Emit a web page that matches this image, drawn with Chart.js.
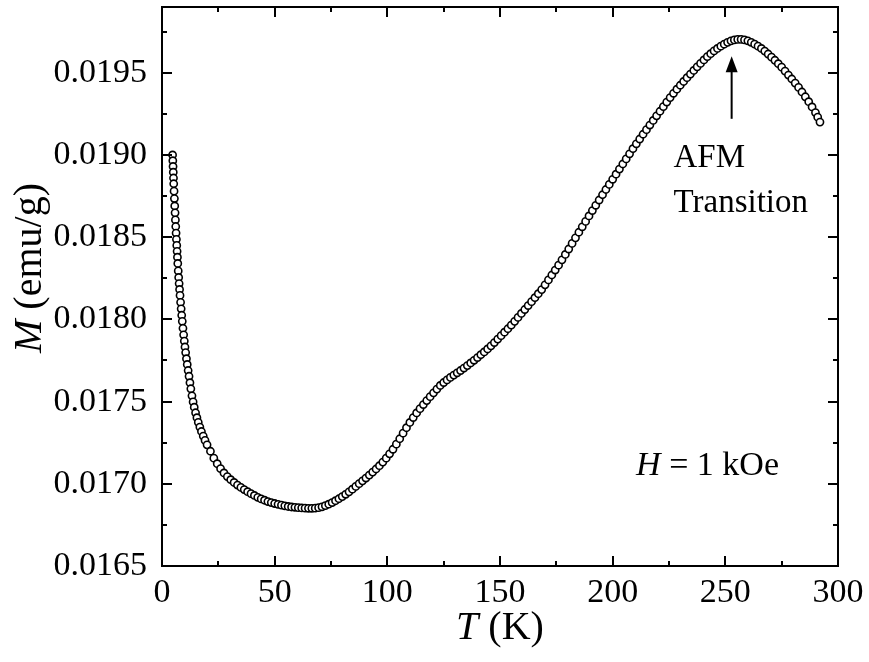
<!DOCTYPE html>
<html>
<head>
<meta charset="utf-8">
<title>M vs T</title>
<script src="https://cdn.jsdelivr.net/npm/chart.js@4.4.1/dist/chart.umd.min.js"></script>
<style>
  body { margin: 0; background: #fff; }
  #wrap { width: 869px; height: 662px; }
</style>
</head>
<body>
<div id="wrap"><canvas id="myChart" width="869" height="662"></canvas></div>
<script>
// temperature (K) and magnetization (emu/g)
const temps = [
  4.7, 4.8, 4.9, 5.0, 5.1, 5.2, 5.35, 5.5, 5.65, 5.8, 5.95, 6.1, 6.25, 6.4, 6.55, 6.7, 6.85, 7.0,
  7.2, 7.4, 7.6, 7.8, 8.0, 8.25, 8.5, 8.75, 9.0, 9.3, 9.6, 9.9, 10.2, 10.5, 10.85, 11.2, 11.6,
  12.0, 12.4, 12.8, 13.3, 13.8, 14.3, 14.9, 15.5, 16.1, 16.8, 17.5, 18.3, 19.1,
  20, 21.5, 23, 24.5, 26, 27.5, 29, 30.5, 32, 33.5, 35, 36.5, 38, 39.5, 41, 42.5, 44, 45.5,
  47, 48.5, 50, 51.5, 53, 54.5, 56, 57.5, 59, 60.5, 62, 63.5, 65, 66.5, 68, 69.5, 71, 72.5,
  74, 75.5, 77, 78.5, 80, 81.5, 83, 84.5, 86, 87.5, 89, 90.5, 92, 93.5, 95, 96.5, 98, 99.5,
  101, 102.5, 104, 105.5, 107, 108.5, 110, 111.5, 113, 114.5, 116, 117.5, 119, 120.5, 122, 123.5,
  125, 126.5, 128, 129.5, 131, 132.5, 134, 135.5, 137, 138.5, 140, 141.5, 143, 144.5, 146, 147.5,
  149, 150.5, 152, 153.5, 155, 156.5, 158, 159.5, 161, 162.5, 164, 165.5, 167, 168.5, 170, 171.5,
  173, 174.5, 176, 177.5, 179, 180.5, 182, 183.5, 185, 186.5, 188, 189.5, 191, 192.5, 194, 195.5,
  197, 198.5, 200, 201.5, 203, 204.5, 206, 207.5, 209, 210.5, 212, 213.5, 215, 216.5, 218, 219.5,
  221, 222.5, 224, 225.5, 227, 228.5, 230, 231.5, 233, 234.5, 236, 237.5, 239, 240.5, 242, 243.5,
  245, 246.5, 248, 249.5, 251, 252.5, 254, 255.5, 257, 258.5, 260, 261.5, 263, 264.5, 266, 267.5,
  269, 270.5, 272, 273.5, 275, 276.5, 278, 279.5, 281, 282.5, 284, 285.5, 287, 288.5, 290, 291, 292
];
const moments = [
  0.019000, 0.018965, 0.018930, 0.018895, 0.018860, 0.018825, 0.018780, 0.018735, 0.018690,
  0.018648, 0.018605, 0.018565, 0.018525, 0.018487, 0.018450, 0.018414, 0.018378, 0.018340,
  0.018295, 0.018255, 0.018218, 0.018182, 0.018146, 0.018104, 0.018064, 0.018025, 0.017988,
  0.017946, 0.017906, 0.017868, 0.017832, 0.017798, 0.017761, 0.017726, 0.017689,
  0.017654, 0.017615, 0.017578, 0.017535, 0.017498, 0.017466, 0.017432, 0.017402, 0.017374,
  0.017345, 0.017318, 0.017290, 0.017264,
  0.017237, 0.017198, 0.017156, 0.017122, 0.017092, 0.017066, 0.017044, 0.017025, 0.017008,
  0.016992, 0.016978, 0.016965, 0.016952, 0.016940, 0.016929, 0.016918, 0.016908, 0.016900,
  0.016892, 0.016886, 0.016880, 0.016875, 0.016870, 0.016866, 0.016862, 0.016859, 0.016857,
  0.016855, 0.016853, 0.016852, 0.016851, 0.016851, 0.016852, 0.016855, 0.016860, 0.016867,
  0.016876, 0.016886, 0.016897, 0.016909, 0.016922, 0.016936, 0.016951, 0.016967, 0.016984,
  0.017001, 0.017018, 0.017035, 0.017053, 0.017071, 0.017090, 0.017110, 0.017132, 0.017156,
  0.017182, 0.017210, 0.017241, 0.017274, 0.017308, 0.017341, 0.017373, 0.017403, 0.017431,
  0.017457, 0.017482, 0.017506, 0.017530, 0.017553, 0.017576, 0.017598,
  0.017616, 0.017632, 0.017647, 0.017661, 0.017675, 0.017689, 0.017704, 0.017719, 0.017735,
  0.017751, 0.017768, 0.017785, 0.017802, 0.017820, 0.017839, 0.017859,
  0.017880, 0.017901, 0.017922, 0.017943, 0.017965, 0.017988, 0.018012, 0.018036, 0.018060,
  0.018084, 0.018108, 0.018132, 0.018156, 0.018181, 0.018210, 0.018240,
  0.018270, 0.018300, 0.018330, 0.018362, 0.018395, 0.018428, 0.018462, 0.018496, 0.018530,
  0.018563, 0.018596, 0.018629, 0.018662, 0.018694, 0.018726, 0.018758,
  0.018790, 0.018821, 0.018852, 0.018883, 0.018914, 0.018945, 0.018976, 0.019007, 0.019038,
  0.019068, 0.019097, 0.019126, 0.019154, 0.019182, 0.019210, 0.019238,
  0.019266, 0.019294, 0.019322, 0.019349, 0.019375, 0.019400, 0.019424, 0.019447, 0.019470,
  0.019492, 0.019514, 0.019536, 0.019557, 0.019578, 0.019598, 0.019616,
  0.019633, 0.019648, 0.019662, 0.019674, 0.019685, 0.019694, 0.019700, 0.019703, 0.019703,
  0.019700, 0.019694, 0.019685, 0.019674, 0.019662, 0.019648, 0.019632,
  0.019614, 0.019595, 0.019576, 0.019555, 0.019534, 0.019510, 0.019486, 0.019462, 0.019437,
  0.019411, 0.019383, 0.019354, 0.019324, 0.019292, 0.019258, 0.019230, 0.019200
];

const xTicks = [0, 50, 100, 150, 200, 250, 300];
const xMinor = [25, 75, 125, 175, 225, 275];
const yTicks = [0.0165, 0.0170, 0.0175, 0.0180, 0.0185, 0.0190, 0.0195];
const yMinor = [0.01675, 0.01725, 0.01775, 0.01825, 0.01875, 0.01925, 0.01975];

const FONT = '"Liberation Serif", "Times New Roman", serif';

// draws a line of text made of italic / upright pieces
function richText(ctx, parts, x, y, size, align) {
  let w = 0;
  parts.forEach(p => {
    ctx.font = (p.it ? 'italic ' : '') + size + 'px ' + FONT;
    p.w = ctx.measureText(p.t).width;
    w += p.w;
  });
  let cx = align === 'center' ? x - w / 2 : x;
  ctx.textAlign = 'left';
  ctx.textBaseline = 'alphabetic';
  parts.forEach(p => {
    ctx.font = (p.it ? 'italic ' : '') + size + 'px ' + FONT;
    ctx.fillText(p.t, cx, y);
    cx += p.w;
  });
}

const framePlugin = {
  id: 'frame',
  afterDraw(chart) {
    const ctx = chart.ctx;
    const a = chart.chartArea;
    const xs = chart.scales.x, ys = chart.scales.y;
    ctx.save();
    ctx.strokeStyle = '#000';
    ctx.fillStyle = '#000';
    ctx.lineWidth = 2;
    ctx.strokeRect(a.left, a.top, a.right - a.left, a.bottom - a.top);

    ctx.beginPath();
    const tickX = (vals, len) => vals.forEach(v => {
      const px = Math.round(xs.getPixelForValue(v));
      ctx.moveTo(px, a.bottom); ctx.lineTo(px, a.bottom - len);
      ctx.moveTo(px, a.top); ctx.lineTo(px, a.top + len);
    });
    const tickY = (vals, len) => vals.forEach(v => {
      const py = Math.round(ys.getPixelForValue(v));
      ctx.moveTo(a.left, py); ctx.lineTo(a.left + len, py);
      ctx.moveTo(a.right, py); ctx.lineTo(a.right - len, py);
    });
    tickX(xTicks, 10); tickX(xMinor, 5);
    tickY(yTicks, 10); tickY(yMinor, 5);
    ctx.stroke();

    // arrow at the transition
    const ax = xs.getPixelForValue(252.8);
    const aTop = ys.getPixelForValue(0.0196);
    const aBot = ys.getPixelForValue(0.01922);
    ctx.beginPath();
    ctx.moveTo(ax, aBot); ctx.lineTo(ax, aTop + 12);
    ctx.stroke();
    ctx.beginPath();
    ctx.moveTo(ax, aTop);
    ctx.lineTo(ax - 6, aTop + 16);
    ctx.lineTo(ax + 6, aTop + 16);
    ctx.closePath();
    ctx.fill();

    // annotations
    richText(ctx, [{t: 'AFM'}], xs.getPixelForValue(227), ys.getPixelForValue(0.018924), 33, 'left');
    richText(ctx, [{t: 'Transition'}], xs.getPixelForValue(227), ys.getPixelForValue(0.018651), 33, 'left');
    richText(ctx, [{t: 'H', it: true}, {t: ' = 1 kOe'}], xs.getPixelForValue(210.4), ys.getPixelForValue(0.017053), 34, 'left');

    // axis titles
    richText(ctx, [{t: 'T', it: true}, {t: ' (K)'}], (a.left + a.right) / 2, 639, 40, 'center');
    ctx.translate(41, 268);
    ctx.rotate(-Math.PI / 2);
    richText(ctx, [{t: 'M', it: true}, {t: ' (emu/g)'}], 0, 0, 40, 'center');
    ctx.restore();
  }
};

const ctx = document.getElementById('myChart').getContext('2d');
const myChart = new Chart(ctx, {
  type: 'scatter',
  data: {
    datasets: [{
      label: 'M(T)',
      data: temps.map((t, i) => ({ x: t, y: moments[i] })),
      pointStyle: 'circle',
      pointRadius: 3.6,
      pointBorderWidth: 1.6,
      pointBorderColor: '#000',
      pointBackgroundColor: '#fff',
      showLine: false
    }]
  },
  options: {
    responsive: false,
    devicePixelRatio: 1,
    animation: false,
    layout: { padding: { top: 7, right: 31, left: 0, bottom: 0 } },
    plugins: { legend: { display: false }, tooltip: { enabled: false } },
    scales: {
      x: {
        type: 'linear',
        min: 0, max: 300,
        afterBuildTicks: s => { s.ticks = xTicks.map(v => ({ value: v })); },
        afterFit: s => { s.height = 96; s.paddingLeft = 0; s.paddingRight = 0; },
        grid: { display: false, drawTicks: false },
        border: { display: false },
        ticks: {
          padding: 7,
          color: '#000',
          font: { family: FONT, size: 34 },
          maxRotation: 0,
          callback: v => String(v)
        }
      },
      y: {
        type: 'linear',
        min: 0.0165, max: 0.0199,
        afterBuildTicks: s => { s.ticks = yTicks.map(v => ({ value: v })); },
        afterFit: s => { s.width = 162; s.paddingTop = 0; s.paddingBottom = 0; },
        grid: { display: false, drawTicks: false },
        border: { display: false },
        ticks: {
          padding: 15,
          color: '#000',
          font: { family: FONT, size: 34 },
          callback: v => v.toFixed(4)
        }
      }
    }
  },
  plugins: [framePlugin]
});
</script>
</body>
</html>
